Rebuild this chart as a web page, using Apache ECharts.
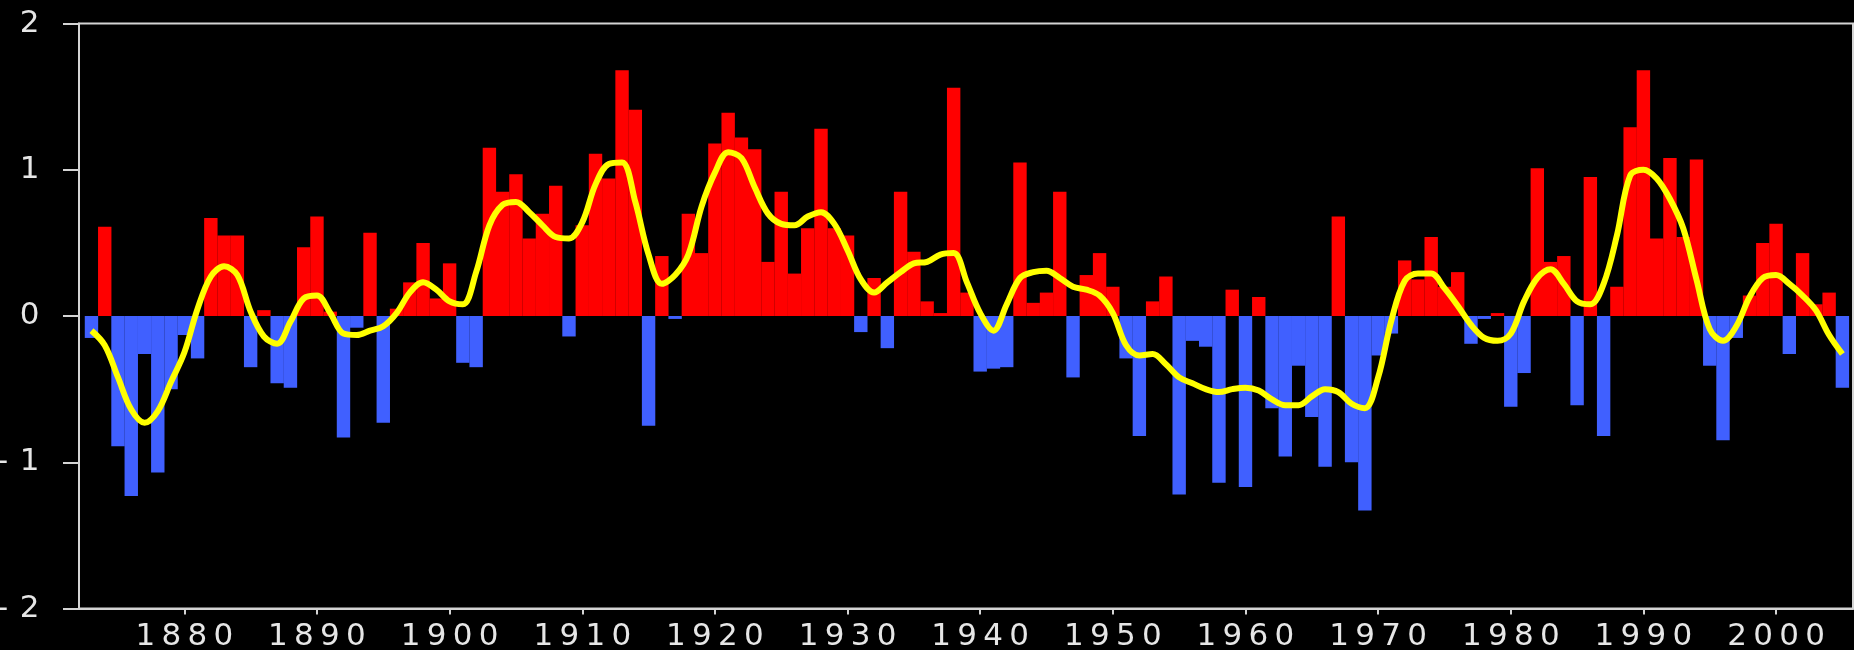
<!DOCTYPE html>
<html>
<head>
<meta charset="utf-8">
<title>Annual anomalies 1873–2005</title>
<script src="https://cdn.jsdelivr.net/npm/echarts@6/dist/echarts.min.js"></script>
<style>
  html, body { margin: 0; padding: 0; background: #000; }
  #chart { width: 1854px; height: 650px; }
</style>
</head>
<body>
<div id="chart"></div>
<script>
// Years covered by the series
const firstYear = 1873;
const lastYear = 2005;

// Annual anomaly, one value per year from 1873 to 2005
const anomalies = [
  -0.15, 0.61, -0.89, -1.23, -0.26, -1.07, -0.50,            // 1873-1879
  -0.13, -0.29, 0.67, 0.55, 0.55, -0.35, 0.04, -0.46, -0.49, 0.47, // 1880-1889
  0.68, 0.03, -0.83, -0.08, 0.57, -0.73, 0.05, 0.23, 0.50, 0.12,  // 1890-1899
  0.36, -0.32, -0.35, 1.15, 0.85, 0.97, 0.53, 0.70, 0.89, -0.14,  // 1900-1909
  0.62, 1.11, 0.94, 1.68, 1.41, -0.75, 0.41, -0.02, 0.70, 0.43,   // 1910-1919
  1.18, 1.39, 1.22, 1.14, 0.37, 0.85, 0.29, 0.60, 1.28, 0.60,     // 1920-1929
  0.55, -0.11, 0.26, -0.22, 0.85, 0.44, 0.10, 0.02, 1.56, 0.16,   // 1930-1939
  -0.38, -0.36, -0.35, 1.05, 0.09, 0.16, 0.85, -0.42, 0.28, 0.43, // 1940-1949
  0.20, -0.29, -0.82, 0.10, 0.27, -1.22, -0.17, -0.21, -1.14, 0.18, // 1950-1959
  -1.17, 0.13, -0.63, -0.96, -0.34, -0.69, -1.03, 0.68, -1.00, -1.33, // 1960-1969
  -0.27, -0.12, 0.38, 0.25, 0.54, 0.20, 0.30, -0.19, -0.02, 0.02, // 1970-1979
  -0.62, -0.39, 1.01, 0.37, 0.41, -0.61, 0.95, -0.82, 0.20, 1.29, // 1980-1989
  1.68, 0.53, 1.08, 0.54, 1.07, -0.34, -0.85, -0.15, 0.14, 0.50,  // 1990-1999
  0.63, -0.26, 0.43, 0.08, 0.16, -0.49                            // 2000-2005
];

// Low-pass filtered curve of the same series
const smoothed = [
  -0.10, -0.20, -0.42, -0.64, -0.73, -0.65, -0.45,               // 1873-1879
  -0.25, 0.05, 0.27, 0.34, 0.28, 0.03, -0.14, -0.19, -0.04, 0.12, // 1880-1889
  0.14, 0.02, -0.12, -0.13, -0.10, -0.07, 0.02, 0.16, 0.23, 0.18, // 1890-1899
  0.10, 0.08, 0.30, 0.62, 0.76, 0.78, 0.71, 0.62, 0.54, 0.53,     // 1900-1909
  0.64, 0.90, 1.04, 1.05, 0.78, 0.42, 0.22, 0.28, 0.42, 0.75,     // 1910-1919
  0.98, 1.12, 1.08, 0.88, 0.70, 0.63, 0.62, 0.68, 0.71, 0.63,     // 1920-1929
  0.45, 0.25, 0.16, 0.23, 0.30, 0.36, 0.37, 0.42, 0.43, 0.23,     // 1930-1939
  0.02, -0.10, 0.08, 0.26, 0.30, 0.31, 0.26, 0.20, 0.18, 0.14,    // 1940-1949
  0.02, -0.20, -0.27, -0.26, -0.33, -0.42, -0.46, -0.50, -0.52, -0.50, // 1950-1959
  -0.49, -0.51, -0.57, -0.61, -0.61, -0.55, -0.50, -0.52, -0.60, -0.63, // 1960-1969
  -0.42, -0.03, 0.24, 0.29, 0.29, 0.19, 0.07, -0.06, -0.15, -0.17, // 1970-1979
  -0.12, 0.10, 0.26, 0.32, 0.22, 0.10, 0.08, 0.22, 0.55, 0.96,    // 1980-1989
  1.00, 0.94, 0.80, 0.60, 0.25, -0.09, -0.17, -0.07, 0.13, 0.26,  // 1990-1999
  0.28, 0.22, 0.14, 0.04, -0.13, -0.26                            // 2000-2005
];

// Axis tick labels
const yearTicks = [1880, 1890, 1900, 1910, 1920, 1930, 1940, 1950, 1960, 1970, 1980, 1990, 2000];
const valueTicks = [-2, -1, 0, 1, 2];

const years = anomalies.map((_, i) => firstYear + i);
const barData = years.map((y, i) => [y, anomalies[i]]);
const lineData = years.map((y, i) => [y, smoothed[i]]);

// Spread each character of a label into its own fixed-width box
const spaced = v => String(v).split('').map(c => '{c|' + c + '}').join('');

const labelFont = {
  color: '#e6e6e6',
  fontFamily: 'DejaVu Sans',
  fontSize: 31
};

const frameColor = '#d4d4d4';

const chart = echarts.init(document.getElementById('chart'), null, { renderer: 'canvas' });

chart.setOption({
  backgroundColor: '#000000',
  animation: false,
  grid: {
    left: 79,
    right: 1,
    top: 23.5,
    bottom: 41.5,
    outerBoundsMode: 'none',
    containLabel: false,
    show: true,
    borderColor: frameColor,
    borderWidth: 2,
    backgroundColor: 'transparent'
  },
  xAxis: {
    type: 'value',
    min: 1872.06,
    max: 2005.8,
    axisLine: { show: true, onZero: false, lineStyle: { color: frameColor, width: 2 } },
    axisTick: {
      show: true,
      length: 6,
      customValues: yearTicks,
      lineStyle: { color: frameColor, width: 2 }
    },
    splitLine: { show: false },
    axisLabel: {
      customValues: yearTicks,
      margin: 13,
      formatter: spaced,
      rich: { c: Object.assign({ width: 26, align: 'center' }, labelFont) }
    }
  },
  yAxis: {
    type: 'value',
    min: valueTicks[0],
    max: valueTicks[valueTicks.length - 1],
    interval: 1,
    axisLine: { show: true, onZero: false, lineStyle: { color: frameColor, width: 2 } },
    axisTick: {
      show: true,
      length: 16,
      lineStyle: { color: frameColor, width: 2 }
    },
    splitLine: { show: false },
    axisLabel: {
      margin: 36,
      formatter: spaced,
      rich: { c: Object.assign({ width: 27, align: 'center' }, labelFont) }
    }
  },
  series: [
    {
      name: 'anomaly',
      type: 'bar',
      data: barData,
      barWidth: 13.4,
      itemStyle: {
        color: p => (p.value[1] >= 0 ? '#ff0000' : '#4060ff')
      },
      z: 2
    },
    {
      name: 'filtered',
      type: 'line',
      data: lineData,
      smooth: 0.35,
      showSymbol: false,
      symbol: 'none',
      lineStyle: { color: '#ffff00', width: 6 },
      z: 3
    }
  ]
});
</script>
</body>
</html>
